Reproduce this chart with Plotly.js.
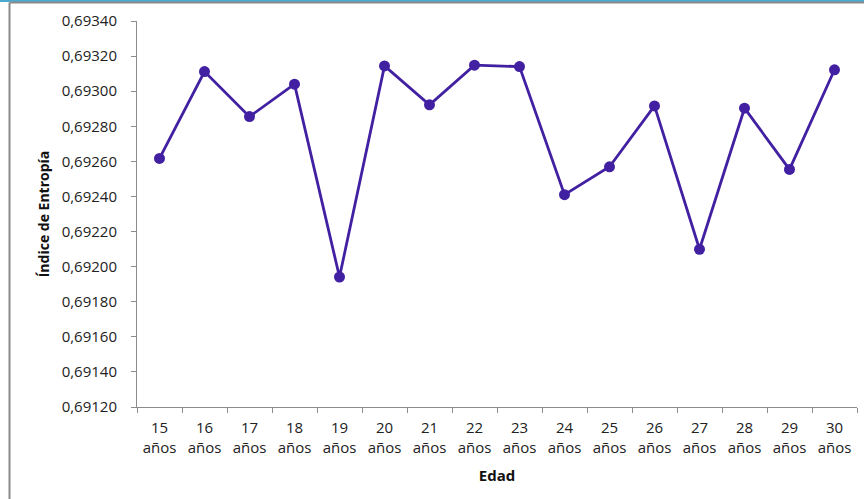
<!DOCTYPE html>
<html>
<head>
<meta charset="utf-8">
<script src="https://cdn.plot.ly/plotly-3.0.1.min.js"></script>
<style>
html,body{margin:0;padding:0;background:#fff;}
#chart{width:864px;height:499px;}
</style>
</head>
<body>
<div id="chart"></div>
<script>
var categories = ["15 años","16 años","17 años","18 años","19 años","20 años","21 años","22 años","23 años","24 años","25 años","26 años","27 años","28 años","29 años","30 años"];
var tickLabels = ["15<br>años","16<br>años","17<br>años","18<br>años","19<br>años","20<br>años","21<br>años","22<br>años","23<br>años","24<br>años","25<br>años","26<br>años","27<br>años","28<br>años","29<br>años","30<br>años"];
var entropia = [0.692617,0.693112,0.692855,0.693040,0.691941,0.693144,0.692922,0.693148,0.693140,0.692410,0.692569,0.692916,0.692099,0.692903,0.692554,0.693122];
var yTicks = [0.6912,0.6914,0.6916,0.6918,0.6920,0.6922,0.6924,0.6926,0.6928,0.6930,0.6932,0.6934];

var font = "Open Sans, Liberation Sans, sans-serif";
var trace = {
  x: categories,
  y: entropia,
  type: "scatter",
  mode: "lines+markers",
  line: {color: "#4220A2", width: 2.8},
  marker: {color: "#4220A2", size: 11},
  hoverinfo: "x+y"
};
var layout = {
  width: 864, height: 499,
  margin: {l: 137, r: 7, t: 21, b: 92, autoexpand: false},
  paper_bgcolor: "#ffffff",
  plot_bgcolor: "#ffffff",
  separators: ",.",
  showlegend: false,
  font: {family: font, size: 15, color: "#222"},
  xaxis: {
    type: "category",
    range: [-0.5, categories.length - 0.5],
    automargin: false,
    tickmode: "array",
    tickvals: categories,
    ticktext: tickLabels,
    tickangle: 0,
    tickson: "boundaries",
    ticks: "outside", ticklen: 5, tickcolor: "#8c8c8c",
    ticklabelstandoff: 7,
    showline: true, linecolor: "#8c8c8c", linewidth: 1,
    showgrid: false, zeroline: false,
    tickfont: {family: font, size: 15, color: "#222"},
    title: {text: "<b>Edad</b>", font: {family: font, size: 15, color: "#111"}, standoff: 14}
  },
  yaxis: {
    range: [0.6912, 0.6934],
    automargin: false,
    tickmode: "array",
    tickvals: yTicks,
    tickformat: ".5f",
    ticks: "outside", ticklen: 5, tickcolor: "#8c8c8c",
    ticklabelstandoff: 11,
    showline: true, linecolor: "#8c8c8c", linewidth: 1,
    showgrid: false, zeroline: false,
    tickfont: {family: font, size: 15, color: "#222"},
    title: {text: "<b>Índice de Entropía</b>", font: {family: font, size: 14, color: "#111"}, standoff: 8}
  },
  shapes: [
    {type: "rect", xref: "paper", yref: "paper", x0: -137/720, x1: 727/720, y0: 1 + 19/386, y1: 1 + 21/386, fillcolor: "#4BAAD0", line: {width: 0}, layer: "above"},
    {type: "line", xref: "paper", yref: "paper", x0: -127.5/720, x1: 727/720, y0: 1 + 18.5/386, y1: 1 + 18.5/386, line: {color: "#8a8a8a", width: 2}},
    {type: "line", xref: "paper", yref: "paper", x0: -127.5/720, x1: -127.5/720, y0: -92/386, y1: 1 + 18.5/386, line: {color: "#8a8a8a", width: 2}}
  ]
};
Plotly.newPlot("chart", [trace], layout, {displayModeBar: false, staticPlot: true});
</script>
</body>
</html>
